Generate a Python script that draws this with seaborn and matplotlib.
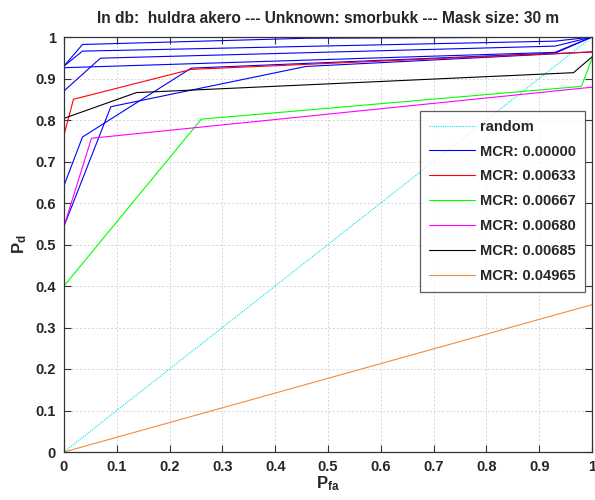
import numpy as np
import pandas as pd
import matplotlib
matplotlib.use("Agg")
import matplotlib.pyplot as plt
import seaborn as sns

# ---- data ----
random_x = [0.0, 1.0]
random_y = [0.0, 1.0]

# several curves with MCR 0.00000 (all drawn in blue)
blue_a_x = [0.0, 0.035, 0.46, 1.0]
blue_a_y = [0.930, 0.982, 0.997, 1.0]
blue_b_x = [0.0, 0.035, 0.93, 1.0]
blue_b_y = [0.930, 0.966, 0.990, 1.0]
blue_c_x = [0.0, 0.069, 0.93, 1.0]
blue_c_y = [0.870, 0.949, 0.978, 1.0]
blue_d_x = [0.0, 0.93, 1.0]
blue_d_y = [0.926, 0.963, 1.0]
blue_f_x = [0.0, 0.035, 0.241, 0.93, 1.0]
blue_f_y = [0.642, 0.759, 0.925, 0.961, 1.0]
blue_g_x = [0.0, 0.0887, 0.458, 1.0]
blue_g_y = [0.544, 0.832, 0.929, 0.964]

red_x = [0.0, 0.018, 0.241, 1.0]
red_y = [0.764, 0.850, 0.922, 0.964]
green_x = [0.0, 0.26, 0.98, 1.0]
green_y = [0.400, 0.802, 0.881, 0.948]
magenta_x = [0.0, 0.052, 1.0]
magenta_y = [0.544, 0.756, 0.879]
black_x = [0.0, 0.137, 0.965, 1.0]
black_y = [0.804, 0.866, 0.914, 0.952]
orange_x = [0.0, 1.0]
orange_y = [0.0, 0.355]

labels = ["random", "MCR: 0.00000", "MCR: 0.00633", "MCR: 0.00667",
          "MCR: 0.00680", "MCR: 0.00685", "MCR: 0.04965"]
tick_vals = [0, 0.1, 0.2, 0.3, 0.4, 0.5, 0.6, 0.7, 0.8, 0.9, 1.0]
tick_labels = ["0", "0.1", "0.2", "0.3", "0.4", "0.5", "0.6", "0.7", "0.8", "0.9", "1"]
title = "In db:  huldra akero --- Unknown: smorbukk --- Mask size: 30 m"

# ---- style ----
sns.set_style("white")
plt.rcParams['font.family'] = ['Liberation Sans', 'DejaVu Sans']
plt.rcParams['font.weight'] = 'bold'
plt.rcParams['mathtext.fontset'] = 'custom'
plt.rcParams['mathtext.rm'] = 'Liberation Sans:bold'
plt.rcParams['mathtext.bf'] = 'Liberation Sans:bold'
plt.rcParams['mathtext.it'] = 'Liberation Sans:bold'

fig = plt.figure(figsize=(5.95, 5.0), dpi=100)
ax = fig.add_axes([64/595, 48/500, 528/595, 415/500])

lw = 0.8
sns.lineplot(x=random_x, y=random_y, color='#00e5ee', linestyle=(0, (1, 1)),
             lw=lw, ax=ax, label=labels[0], sort=False, estimator=None)

blue_curves = [(blue_a_x, blue_a_y), (blue_b_x, blue_b_y), (blue_c_x, blue_c_y),
               (blue_d_x, blue_d_y), (blue_f_x, blue_f_y), (blue_g_x, blue_g_y)]
for i, (bx, by) in enumerate(blue_curves):
    sns.lineplot(x=bx, y=by, color='#0000ff', lw=lw, ax=ax,
                 label=labels[1] if i == 0 else None, sort=False, estimator=None)

others = [(red_x, red_y, '#ff0000', labels[2]),
          (green_x, green_y, '#00ff00', labels[3]),
          (magenta_x, magenta_y, '#ff00ff', labels[4]),
          (black_x, black_y, '#000000', labels[5]),
          (orange_x, orange_y, '#f28c3c', labels[6])]
for ox, oy, c, lab in others:
    sns.lineplot(x=ox, y=oy, color=c, lw=lw, ax=ax, label=lab, sort=False, estimator=None)

ax.set_xlim(0, 1)
ax.set_ylim(0, 1)
ax.set_xticks(tick_vals)
ax.set_yticks(tick_vals)
ax.set_xticklabels(tick_labels, fontsize=10.5, fontweight='bold')
ax.set_yticklabels(tick_labels, fontsize=10.5, fontweight='bold')
ax.tick_params(direction='in', length=5, width=0.8, color='#333333',
               top=True, right=True, bottom=True, left=True, pad=6)
ax.grid(True, color='#d6d6d6', linestyle=(0, (2, 2)), linewidth=0.7)
for s in ax.spines.values():
    s.set_color('#333333')
    s.set_linewidth(0.9)
    s.set_visible(True)

ax.set_title(title, fontsize=11.2, fontweight='bold', pad=10)
ax.set_xlabel(r'P$_{\rm fa}$', fontsize=12, fontweight='bold', labelpad=0)
ax.set_ylabel(r'P$_{\rm d}$', fontsize=12, fontweight='bold', labelpad=4)

leg = ax.legend(loc='upper left', bbox_to_anchor=(0.674, 0.822), fontsize=10.5,
                frameon=True, fancybox=False, edgecolor='#333333',
                handlelength=3.2, handletextpad=0.35, labelspacing=0.75,
                borderpad=0.6, borderaxespad=0)
leg.get_frame().set_linewidth(0.9)
for t in leg.get_texts():
    t.set_fontweight('bold')

fig.savefig('out.png', dpi=100)
